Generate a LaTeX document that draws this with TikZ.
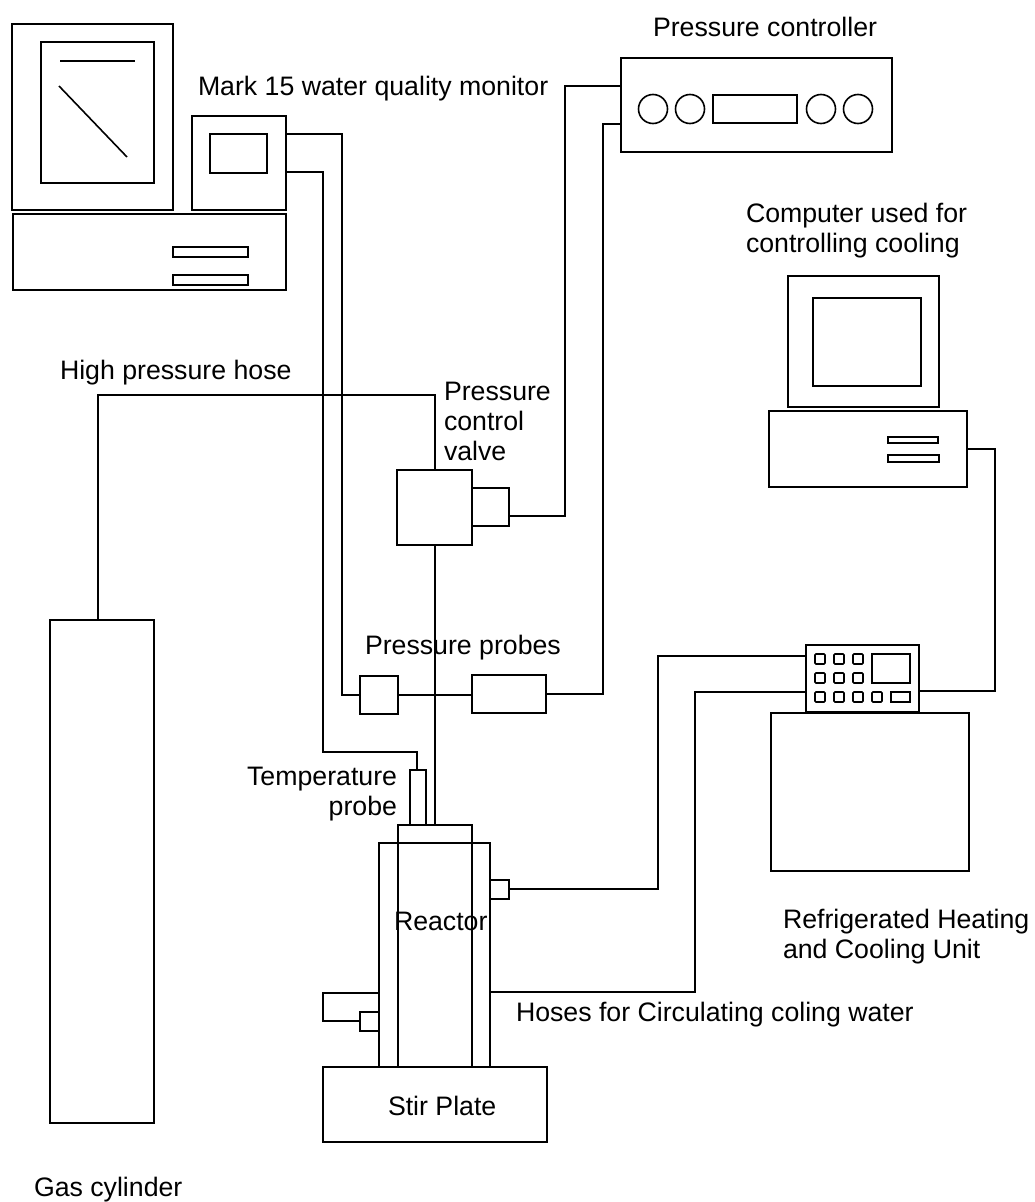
\documentclass[tikz,border=0pt]{standalone}
\usepackage{fontspec}
\setmainfont{Liberation Sans}
\newcommand{\bx}[6][]{\node[boxs,#1,minimum width=#5pt-#3pt,minimum height=#6pt-#4pt] (#2) at ({(#3+#5)/2},{(#4+#6)/2}) {};}
\newcommand{\lbl}[5][base west]{\node[lbls,anchor=#1] (#2) at (#3,#4) {#5};}
\tikzset{
  boxs/.style={draw=black,line width=1.6pt,inner sep=0pt,outer sep=0pt,shape=rectangle},
  wire/.style={draw=black,line width=1.6pt,line join=miter},
  thinwire/.style={draw=black,line width=1.3pt},
  lbls/.style={inner sep=0pt,outer sep=0pt,font=\fontsize{26.7}{30}\selectfont,text=black},
  roundb/.style={draw=black,line width=1.6pt,circle,inner sep=0pt,outer sep=0pt,minimum size=29pt}
}
\begin{document}
\begin{tikzpicture}[x=1pt,y=-1pt]
\useasboundingbox (0,0) rectangle (1035,1202);
% left computer
\bx{monL}{12}{24}{173}{210}
\bx{scrL}{41}{42}{154}{183}
\coordinate (la) at (60,61); \coordinate (lb) at (135,61);
\coordinate (lc) at (59,86); \coordinate (ld) at (127,157);
\draw[wire] (la) -- (lb);
\draw[wire] (lc) -- (ld);
\bx{baseL}{13}{214}{286}{290}
\bx{slotLa}{173}{247}{248}{257}
\bx{slotLb}{173}{275}{248}{285}
% water quality monitor
\bx{mark}{192}{116}{286}{210}
\bx{markS}{210}{134}{267}{173}
% pressure controller
\bx{ctrl}{621}{58}{892}{152}
\node[roundb] (ca) at (653,109) {};
\node[roundb] (cb) at (690,109) {};
\bx{cdisp}{713}{95}{797}{123}
\node[roundb] (cc) at (821,109) {};
\node[roundb] (cd) at (858,109) {};
% right computer
\bx{monR}{788}{276}{939}{407}
\bx{scrR}{813}{298}{921}{386}
\bx{baseR}{769}{411}{967}{487}
\bx{slotRa}{888}{437}{938}{443}
\bx{slotRb}{888}{455}{939}{462}
% valve
\bx{valve}{397}{470}{472}{545}
\bx{act}{472}{488}{509}{526}
% probes
\bx{probeA}{360}{676}{398}{714}
\bx{probeB}{472}{675}{546}{713}
\bx{tprobe}{410}{770}{426}{825}
% reactor
\bx{outer}{379}{843}{490}{1067}
\node[boxs,line width=1.3pt,minimum width=74pt,minimum height=242pt] (inner) at (435,946) {};
\bx{portR}{490}{880}{509}{899}
\bx{portL}{360}{1012}{379}{1031}
\bx{stir}{323}{1067}{547}{1142}
% cylinder
\bx{cyl}{50}{620}{154}{1123}
% cooling unit
\bx{unit}{771}{713}{969}{871}
\bx{keys}{806}{645}{919}{712}
\foreach \n/\x/\y in {a/820/659,b/839/659,c/858/659,d/820/678,e/839/678,f/858/678,g/820/697,h/839/697,i/858/697,j/877/697}{
  \node[boxs,minimum size=10pt,rounded corners=1pt] (key\n) at (\x,\y) {};
}
\bx{kdisp}{872}{654}{910}{683}
\bx{krect}{891}{692}{910}{702}
% connectors
\draw[wire] (mark.east |- 0,134) -- (342,134) -- (342,695) -- (probeA.west |- 0,695);
\draw[wire] (mark.east |- 0,172) -- (323,172) -- (323,752) -- (417,752) -- (417,770);
\draw[wire] (probeA.east |- 0,695) -- (probeB.west |- 0,695);
\draw[wire] (probeB.east |- 0,694) -- (603,694) -- (603,124) -- (ctrl.west |- 0,124);
\draw[wire] (act.east |- 0,516) -- (565,516) -- (565,86) -- (ctrl.west |- 0,86);
\draw[wire] (cyl.north -| 98,0) -- (98,395) -- (435,395) -- (valve.north -| 435,0);
\draw[thinwire] (valve.south -| 435,0) -- (inner.north -| 435,0);
\draw[wire] (portR.east |- 0,889) -- (658,889) -- (658,656) -- (keys.west |- 0,656);
\draw[wire] (outer.east |- 0,992) -- (695,992) -- (695,692) -- (keys.west |- 0,692);
\draw[wire] (outer.west |- 0,993) -- (323,993) -- (323,1021) -- (portL.west |- 0,1021);
\draw[wire] (keys.east |- 0,691) -- (995,691) -- (995,449) -- (baseR.east |- 0,449);
\draw[line width=2.6pt] (keys.south west) -- (keys.south east);
% labels
\lbl{tMark}{198}{95}{Mark 15 water quality monitor}
\lbl{tCtrl}{653}{36}{Pressure controller}
\lbl{tCompA}{746}{222}{Computer used for}
\lbl{tCompB}{746}{252}{controlling cooling}
\lbl{tHose}{60}{379}{High pressure hose}
\lbl{tPa}{444}{400}{Pressure}
\lbl{tPb}{444}{430}{control}
\lbl{tPc}{444}{460}{valve}
\lbl{tProbes}{365}{654}{Pressure probes}
\lbl[base east]{tTa}{397}{785}{Temperature}
\lbl[base east]{tTb}{397}{815}{probe}
\lbl{tReact}{394}{930}{Reactor}
\lbl{tHoses}{516}{1021}{Hoses for Circulating coling water}
\lbl{tStir}{388}{1115}{Stir Plate}
\lbl{tRefA}{783}{928}{Refrigerated Heating}
\lbl{tRefB}{783}{958}{and Cooling Unit}
\lbl{tGas}{34}{1196}{Gas cylinder}
\end{tikzpicture}
\end{document}
